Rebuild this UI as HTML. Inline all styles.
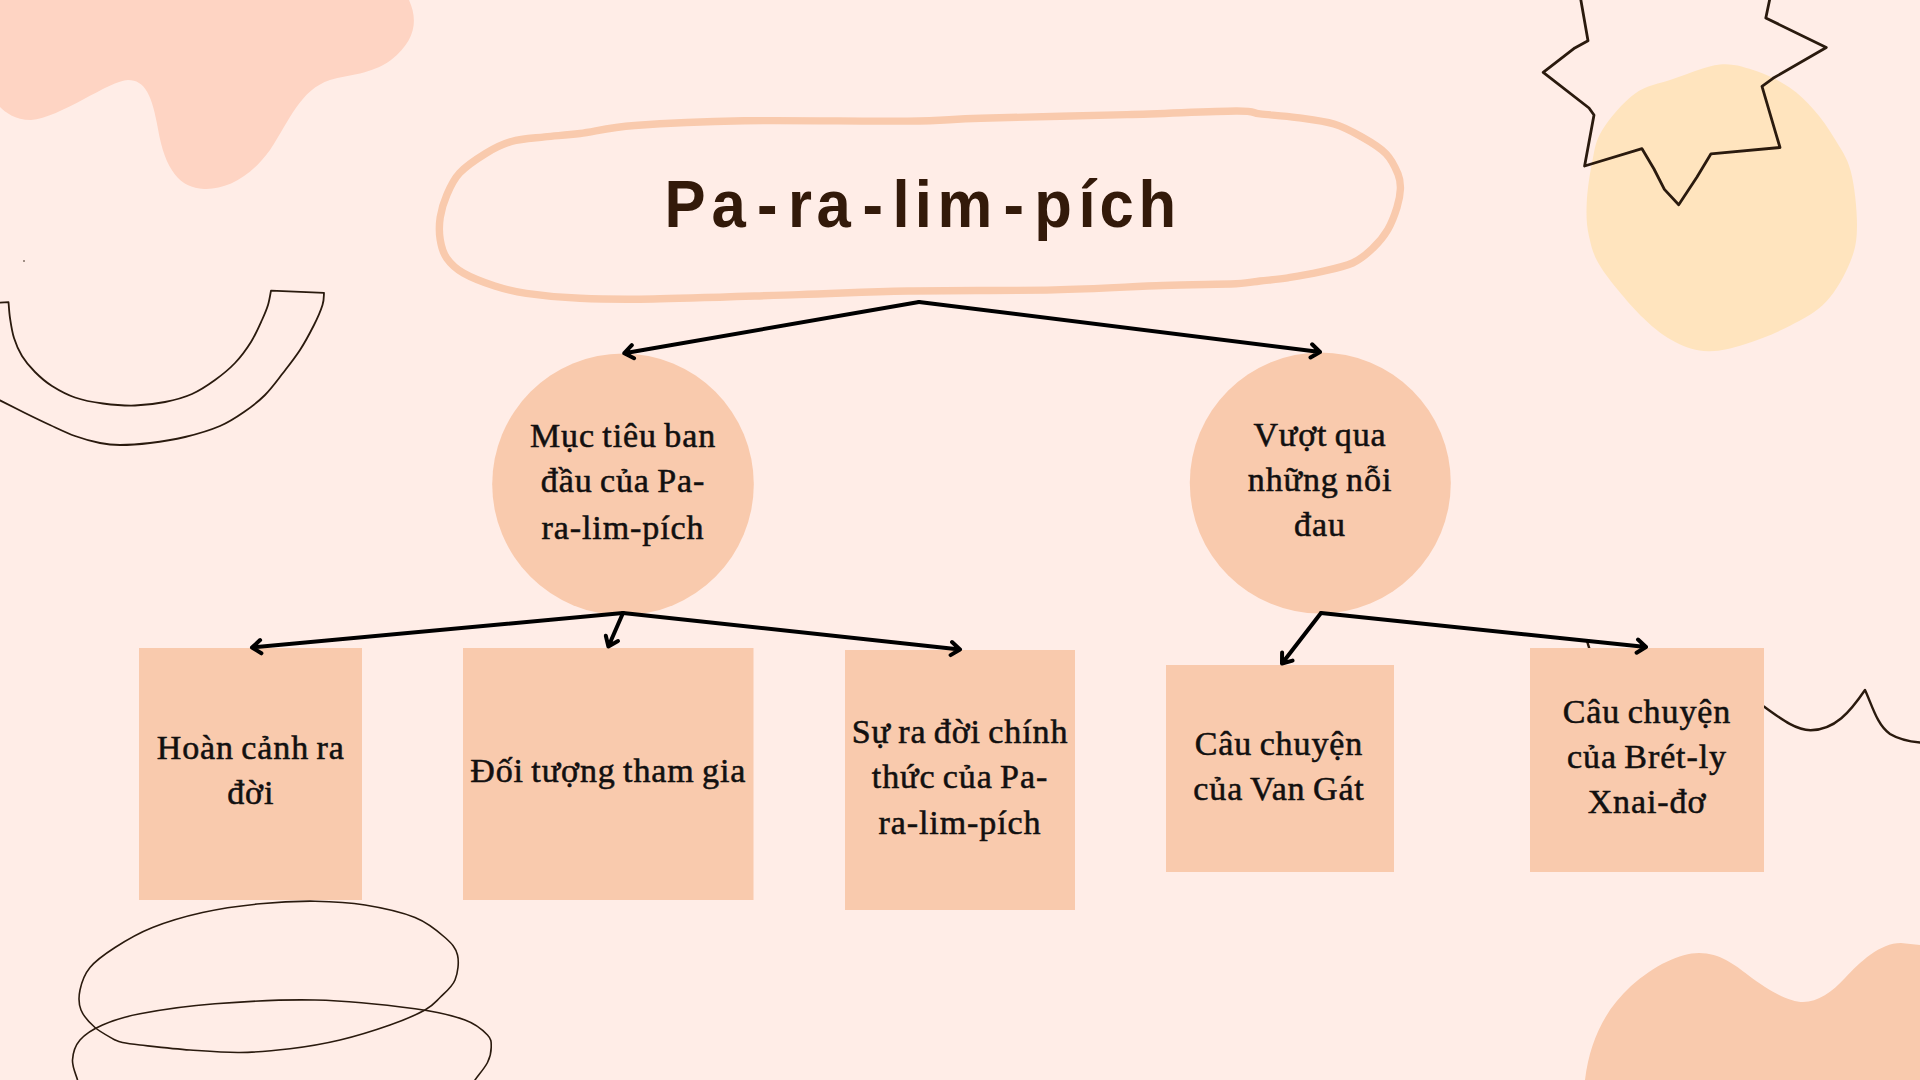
<!DOCTYPE html>
<html><head><meta charset="utf-8">
<style>
html,body{margin:0;padding:0;}
body{width:1920px;height:1080px;overflow:hidden;background:#FFEDE7;position:relative;}
svg{position:absolute;left:0;top:0;}
</style></head><body>
<svg width="1920" height="1080" viewBox="0 0 1920 1080">
<path d="M0,0 L409,0 C418,20 416,40 391,60 C370,75 350,74 330,80 C300,90 290,120 270,150 C250,178 225,190 204,189 C180,188 165,170 158,129 C152,95 145,80 128,80 C110,80 60,118 31,120 C15,120 5,112 0,107 Z" fill="#FED4C3"/>
<path d="M1720.0,64.4 C1734.0,63.1 1745.4,67.4 1757.0,71.3 C1768.6,75.2 1780.1,81.1 1789.6,87.6 C1799.1,94.0 1806.5,101.5 1814.0,110.0 C1821.5,118.5 1828.4,128.3 1834.5,138.5 C1840.6,148.7 1847.0,156.8 1850.7,171.0 C1854.5,185.2 1857.0,209.1 1857.0,224.0 C1857.0,238.9 1855.8,247.8 1850.7,260.7 C1845.6,273.6 1836.5,290.6 1826.3,301.5 C1816.1,312.4 1803.2,318.9 1789.6,326.0 C1776.0,333.1 1758.4,340.1 1744.8,344.3 C1731.2,348.5 1719.5,351.6 1708.0,351.2 C1696.5,350.8 1686.4,347.8 1675.6,342.2 C1664.8,336.6 1655.3,330.0 1643.0,317.8 C1630.7,305.6 1611.0,282.5 1602.0,268.9 C1593.0,255.3 1591.5,247.2 1589.0,236.3 C1586.5,225.4 1586.2,215.9 1586.7,203.7 C1587.2,191.5 1589.5,175.2 1592.0,163.0 C1594.5,150.8 1594.9,142.0 1602.0,130.4 C1609.1,118.9 1623.0,102.3 1634.8,93.7 C1646.6,85.1 1658.8,83.9 1673.0,79.0 C1687.2,74.1 1706.0,65.7 1720.0,64.4 Z" fill="#FFE4BE"/>
<path d="M1585,1080 C1590,1040 1605,1010 1631,986 C1655,965 1680,953 1699,953 C1720,953 1735,965 1748,975 C1770,992 1790,1002 1803,1002 C1818,1002 1832,992 1845,978 C1860,962 1880,943 1901,943 L1920,945 L1920,1080 Z" fill="#F9CAAD"/>
<g fill="none" stroke="#2A1A0E" stroke-linecap="round" stroke-linejoin="round">
<path d="M1580.5,-2.0 L1588.0,40.7 L1574.8,47.9 L1543.2,72.3 L1589.0,108.0 L1594.0,115.0 L1584.6,166.0 L1642.0,148.7 L1654.0,169.0 L1664.4,189.4 L1678.7,204.7 L1697.0,177.0 L1711.0,153.8 L1780.0,147.5 L1775.8,133.3 L1762.0,86.3 L1773.0,78.3 L1826.3,47.5 L1765.8,18.0 L1770.0,-2.0" stroke-width="2.8"/>
<path d="M0,302.7 L8.5,302.1 C8.8,304.8 9.1,312.0 10.0,318.0 C10.9,324.0 12.0,331.7 14.0,338.0 C16.0,344.3 18.5,350.3 22.0,356.0 C25.5,361.7 30.0,367.0 35.0,372.0 C40.0,377.0 45.3,381.8 52.0,386.0 C58.7,390.2 66.5,394.6 75.0,397.5 C83.5,400.4 93.0,402.2 103.0,403.5 C113.0,404.8 124.7,405.8 135.0,405.5 C145.3,405.2 155.5,403.9 165.0,402.0 C174.5,400.1 183.7,397.7 192.0,394.0 C200.3,390.3 207.8,385.2 215.0,380.0 C222.2,374.8 229.0,369.3 235.0,363.0 C241.0,356.7 246.5,349.2 251.0,342.0 C255.5,334.8 259.2,326.2 262.0,320.0 C264.8,313.8 266.5,309.9 268.0,305.0 C269.5,300.1 270.5,293.0 271.0,290.6 L324,292.8 C323.8,294.8 324.2,299.6 322.5,305.0 C320.8,310.4 317.8,317.5 314.0,325.0 C310.2,332.5 305.2,342.0 300.0,350.0 C294.8,358.0 288.8,365.5 283.0,373.0 C277.2,380.5 271.5,388.5 265.0,395.0 C258.5,401.5 251.5,406.8 244.0,412.0 C236.5,417.2 229.8,421.8 220.0,426.0 C210.2,430.2 196.7,434.2 185.0,437.0 C173.3,439.8 160.8,441.7 150.0,443.0 C139.2,444.3 128.3,445.0 120.0,445.0 C111.7,445.0 107.5,444.5 100.0,443.0 C92.5,441.5 83.3,439.0 75.0,436.0 C66.7,433.0 58.3,428.8 50.0,425.0 C41.7,421.2 33.3,417.1 25.0,413.0 C16.7,408.9 4.2,402.5 0.0,400.4" stroke-width="1.8"/>
<circle cx="24" cy="261" r="0.8" fill="#2A1A0E" stroke="none"/>
<path d="M115.0,1040.0 C111.7,1037.9 100.7,1032.5 95.0,1027.5 C89.3,1022.5 83.5,1016.2 81.0,1010.0 C78.5,1003.8 78.5,997.1 80.0,990.0 C81.5,982.9 84.2,974.6 90.0,967.5 C95.8,960.4 104.6,954.2 115.0,947.5 C125.4,940.8 137.9,933.3 152.5,927.5 C167.1,921.7 184.6,916.5 202.5,912.5 C220.4,908.5 241.2,905.6 260.0,903.8 C278.8,901.9 297.5,901.0 315.0,901.2 C332.5,901.5 348.3,902.3 365.0,905.0 C381.7,907.7 401.7,912.1 415.0,917.5 C428.3,922.9 437.9,931.2 445.0,937.5 C452.1,943.8 455.8,947.9 457.5,955.0 C459.2,962.1 457.9,972.9 455.0,980.0 C452.1,987.1 445.0,992.5 440.0,997.5 C435.0,1002.5 433.3,1005.4 425.0,1010.0 C416.7,1014.6 404.2,1020.0 390.0,1025.0 C375.8,1030.0 356.7,1036.0 340.0,1040.0 C323.3,1044.0 306.7,1046.7 290.0,1048.8 C273.3,1050.8 256.7,1052.3 240.0,1052.5 C223.3,1052.7 206.7,1051.2 190.0,1050.0 C173.3,1048.8 151.2,1046.2 140.0,1045.0 C128.8,1043.8 127.0,1043.5 122.5,1042.5 C118.0,1041.5 114.6,1039.6 113.0,1039.0" stroke-width="1.6"/>
<path d="M80.0,1090.0 C79.6,1088.3 78.8,1085.0 77.5,1080.0 C76.2,1075.0 72.1,1066.7 72.5,1060.0 C72.9,1053.3 75.0,1045.8 80.0,1040.0 C85.0,1034.2 92.5,1029.4 102.5,1025.0 C112.5,1020.6 121.2,1017.3 140.0,1013.8 C158.8,1010.2 185.8,1006.0 215.0,1003.8 C244.2,1001.5 281.7,999.2 315.0,1000.0 C348.3,1000.8 390.0,1005.4 415.0,1008.8 C440.0,1012.1 452.9,1015.6 465.0,1020.0 C477.1,1024.4 483.1,1030.4 487.5,1035.0 C491.9,1039.6 491.2,1042.9 491.2,1047.5 C491.2,1052.1 490.2,1057.1 487.5,1062.5 C484.8,1067.9 478.2,1075.4 475.0,1080.0 C471.8,1084.6 469.2,1088.3 468.0,1090.0" stroke-width="1.6"/>
<path d="M1587,641 C1592,660 1605,690 1640,705 C1690,722 1740,705 1764,706.6 C1780,718 1795,730 1810.6,730.3 C1835,730 1850,712 1865,690 C1872,705 1877,725 1890,734 C1900,740 1910,742 1925,743" stroke-width="2.4"/>
</g>
<path d="M511.5,141.5 C521.4,138.7 533.4,138.2 544.8,136.9 C556.2,135.6 565.0,135.4 580.0,133.5 C595.0,131.6 607.4,127.6 634.7,125.5 C662.0,123.4 698.5,121.5 744.0,120.8 C789.5,120.1 868.5,121.5 908.0,121.1 C947.5,120.7 944.5,119.3 981.0,118.2 C1017.5,117.1 1084.5,115.8 1127.0,114.6 C1169.5,113.4 1213.8,111.1 1236.0,111.0 C1258.2,110.9 1249.8,112.8 1260.0,113.9 C1270.2,115.0 1284.7,115.9 1297.0,117.6 C1309.3,119.3 1323.2,120.8 1334.0,124.0 C1344.8,127.2 1353.2,132.1 1361.9,137.0 C1370.6,141.9 1380.0,147.5 1386.0,153.7 C1392.0,159.9 1395.6,168.1 1398.0,174.0 C1400.4,179.9 1400.6,183.3 1400.4,188.9 C1400.2,194.5 1399.1,200.6 1397.0,207.4 C1394.9,214.2 1391.8,222.8 1387.8,229.6 C1383.8,236.4 1378.9,242.4 1373.0,248.0 C1367.1,253.6 1361.6,259.0 1352.6,263.0 C1343.6,267.0 1329.8,269.7 1319.0,272.2 C1308.2,274.7 1297.6,276.3 1287.8,277.8 C1278.0,279.3 1268.6,280.0 1260.0,281.0 C1251.4,282.0 1252.2,282.9 1236.0,283.7 C1219.8,284.4 1193.3,284.5 1163.0,285.5 C1132.7,286.5 1096.5,289.0 1054.0,289.9 C1011.5,290.8 950.5,290.2 908.0,291.0 C865.5,291.8 841.2,293.3 798.7,294.6 C756.2,295.9 689.5,298.4 653.0,299.0 C616.5,299.6 601.1,299.2 580.0,298.3 C558.9,297.4 540.5,295.4 526.3,293.3 C512.1,291.2 505.3,289.4 494.8,286.0 C484.3,282.6 471.3,277.6 463.3,273.0 C455.3,268.4 450.6,263.7 446.7,258.1 C442.8,252.5 441.3,246.4 440.2,239.6 C439.1,232.8 439.1,224.8 440.2,217.4 C441.3,210.0 443.5,202.6 446.7,195.2 C449.9,187.8 453.1,179.9 459.6,173.0 C466.1,166.1 477.0,158.8 485.6,153.5 C494.2,148.2 501.6,144.3 511.5,141.5 Z" fill="none" stroke="#F9CAAD" stroke-width="7.4" stroke-linejoin="round"/>
<g fill="#F9CAAD">
<circle cx="623" cy="484.3" r="130.8"/>
<circle cx="1320.3" cy="483" r="130.5"/>
<rect x="139" y="648" width="223" height="252"/>
<rect x="463" y="648" width="290.5" height="252"/>
<rect x="845" y="650" width="230" height="260"/>
<rect x="1166" y="665" width="228" height="207"/>
<rect x="1530" y="648" width="234" height="224"/>
</g>
<g fill="none" stroke="#000" stroke-width="4" stroke-linecap="round" stroke-linejoin="round">
<path d="M919,302 L624.3,353.2 M634.1,358.2 L624.3,353.2 L631.8,345.2"/>
<path d="M919,302 L1320,352 M1312.1,344.3 L1320,352 L1310.5,357.5"/>
<path d="M623,613 L252,647.5 M261.4,653.3 L252,647.5 L260.1,640.1"/>
<path d="M623,613 L608.4,646.5 M618.0,641.1 L608.4,646.5 L605.8,635.8"/>
<path d="M623,613 L960,649.5 M952.0,642.0 L960,649.5 L950.6,655.1"/>
<path d="M1321,613 L1282,663.5 M1292.6,660.6 L1282,663.5 L1282.1,652.5"/>
<path d="M1321,613 L1646,647 M1638.0,639.5 L1646,647 L1636.6,652.7"/>
</g>
<text transform="scale(0.92,1)" x="722.21 773.33 822.80 856.58 887.40 937.48 970.02 994.26 1018.97 1090.85 1124.21 1172.41 1195.13 1237.54" y="227" font-family="Liberation Sans, sans-serif" font-weight="bold" font-size="67" fill="#331A0A">Pa-ra-lim-pích</text>
<g font-family="Liberation Serif, serif" font-size="34" fill="#121010" text-anchor="middle" letter-spacing="0.9" word-spacing="-2" stroke="#121010" stroke-width="0.55">
<text x="623" y="447">Mục tiêu ban</text>
<text x="623" y="492">đầu của Pa-</text>
<text x="623" y="538.5">ra-lim-pích</text>
<text x="1320" y="446.3">Vượt qua</text>
<text x="1320" y="491.4">những nỗi</text>
<text x="1320" y="536">đau</text>
<text x="250.7" y="759">Hoàn cảnh ra</text>
<text x="250.7" y="804.4">đời</text>
<text x="608.3" y="781.6">Đối tượng tham gia</text>
<text x="960" y="742.7">Sự ra đời chính</text>
<text x="960" y="788.4">thức của Pa-</text>
<text x="960" y="833.8">ra-lim-pích</text>
<text x="1279" y="754.8">Câu chuyện</text>
<text x="1279" y="800">của Van Gát</text>
<text x="1647" y="722.7">Câu chuyện</text>
<text x="1647" y="768.3">của Brét-ly</text>
<text x="1647" y="812.9">Xnai-đơ</text>
</g>
</svg>
</body></html>
